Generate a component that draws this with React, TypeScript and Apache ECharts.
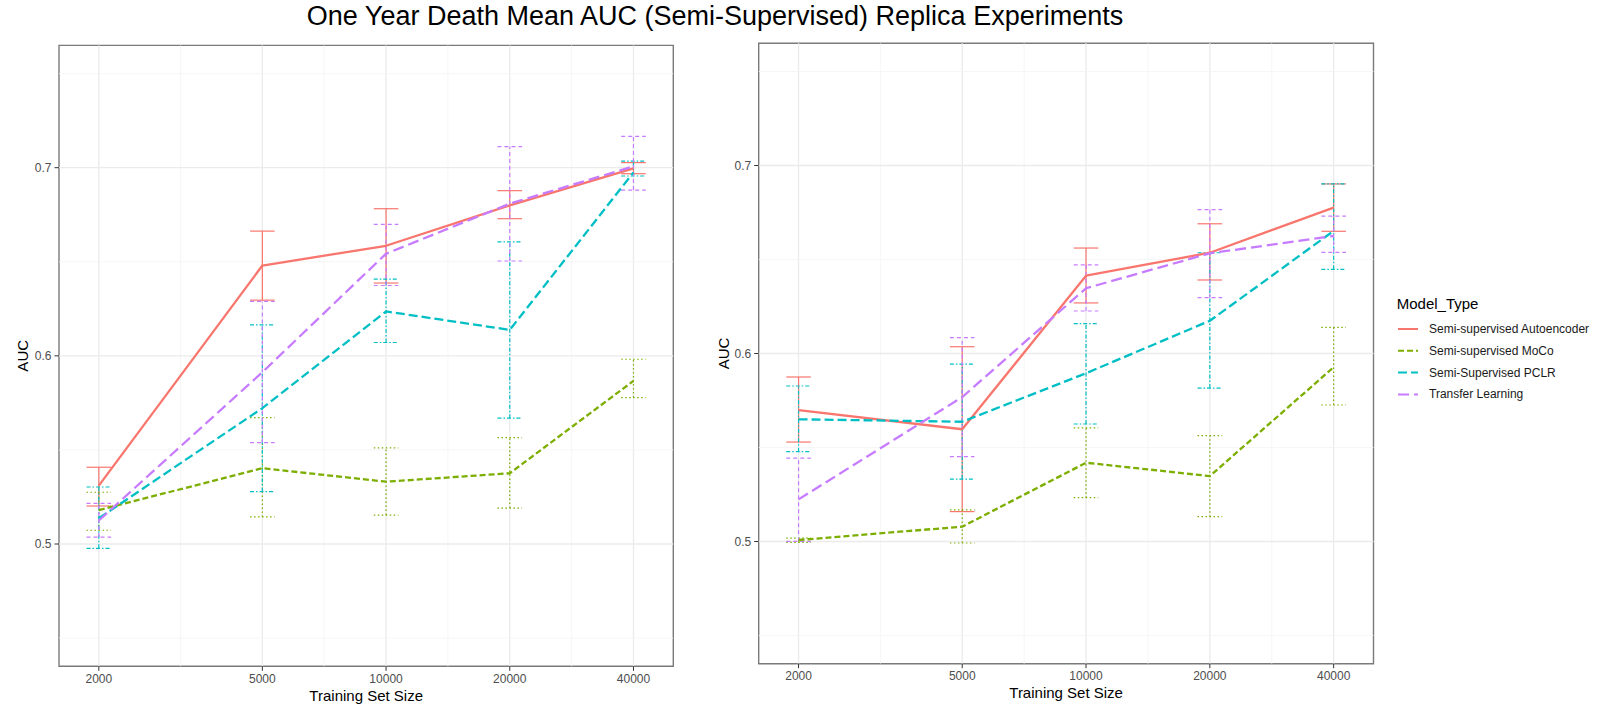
import React, { useEffect, useRef } from "react";
import * as echarts from "echarts";

// ---------- data ----------
const trainingSizes = [2000, 5000, 10000, 20000, 40000];
const yMajorTicks = [0.5, 0.6, 0.7];
const yMinorTicks = [0.45, 0.55, 0.65, 0.75];
const modelNames = [
  "Semi-supervised Autoencoder",
  "Semi-supervised MoCo",
  "Semi-Supervised PCLR",
  "Transfer Learning",
];

// Left panel
const leftAutoencoderMean = [0.531, 0.648, 0.6585, 0.68, 0.6996];
const leftAutoencoderLow = [0.5202, 0.6296, 0.6387, 0.6729, 0.6968];
const leftAutoencoderHigh = [0.5408, 0.6663, 0.6782, 0.6878, 0.7027];
const leftMocoMean = [0.518, 0.5403, 0.5331, 0.5376, 0.5867];
const leftMocoLow = [0.5073, 0.5144, 0.5154, 0.5191, 0.5778];
const leftMocoHigh = [0.5275, 0.5672, 0.5511, 0.5565, 0.5982];
const leftPclrMean = [0.5137, 0.5722, 0.6236, 0.6138, 0.6975];
const leftPclrLow = [0.4977, 0.5278, 0.6071, 0.5669, 0.6956];
const leftPclrHigh = [0.5303, 0.6165, 0.6408, 0.6606, 0.7035];
const leftTransferMean = [0.5125, 0.5913, 0.6543, 0.6809, 0.7007];
const leftTransferLow = [0.5037, 0.5539, 0.6374, 0.6504, 0.6881];
const leftTransferHigh = [0.5216, 0.6289, 0.6699, 0.7112, 0.7166];

// Right panel
const rightAutoencoderMean = [0.5699, 0.5597, 0.6414, 0.6536, 0.6776];
const rightAutoencoderLow = [0.5529, 0.5159, 0.6269, 0.6391, 0.665];
const rightAutoencoderHigh = [0.5875, 0.6036, 0.6561, 0.669, 0.6902];
const rightMocoMean = [0.5008, 0.5079, 0.5419, 0.5348, 0.5927];
const rightMocoLow = [0.4995, 0.4992, 0.5233, 0.5132, 0.5726];
const rightMocoHigh = [0.5018, 0.5168, 0.5604, 0.5563, 0.6139];
const rightPclrMean = [0.565, 0.5637, 0.5895, 0.6174, 0.6652];
const rightPclrLow = [0.5478, 0.5332, 0.5625, 0.5816, 0.6448];
const rightPclrHigh = [0.5827, 0.5944, 0.6159, 0.6536, 0.6902];
const rightTransferMean = [0.5224, 0.5768, 0.6347, 0.6533, 0.6625];
const rightTransferLow = [0.5001, 0.5451, 0.6226, 0.6297, 0.6538];
const rightTransferHigh = [0.5443, 0.6084, 0.6471, 0.6765, 0.6731];

// ---------- styling ----------
const FONT = '"Liberation Sans", Arial, sans-serif';
const COLORS = ["#F8766D", "#7CAE00", "#00BFC4", "#C77CFF"];
const LINE_DASH: any[] = ["solid", [6, 3], [9, 4], [11, 5]];
const ERR_DASH: any[] = [null, [1.5, 2.5], [4, 2, 1.5, 2], [4, 3]];
const X_MIN = 1600;
const X_MAX = 50000;
const Y_MIN = 0.435;
const Y_MAX = 0.765;

const minorGridSizes = trainingSizes
  .slice(1)
  .map((s, i) => Math.sqrt(s * trainingSizes[i]));

const panels = [
  {
    grid: { left: 59, top: 45.4, width: 614.3, height: 620.9 },
    means: [leftAutoencoderMean, leftMocoMean, leftPclrMean, leftTransferMean],
    lows: [leftAutoencoderLow, leftMocoLow, leftPclrLow, leftTransferLow],
    highs: [leftAutoencoderHigh, leftMocoHigh, leftPclrHigh, leftTransferHigh],
  },
  {
    grid: { left: 758.7, top: 43.3, width: 614.8, height: 620.4 },
    means: [rightAutoencoderMean, rightMocoMean, rightPclrMean, rightTransferMean],
    lows: [rightAutoencoderLow, rightMocoLow, rightPclrLow, rightTransferLow],
    highs: [rightAutoencoderHigh, rightMocoHigh, rightPclrHigh, rightTransferHigh],
  },
];

function tickText(x: number, y: number, text: string, align: string) {
  return {
    type: "text",
    x,
    y,
    silent: true,
    style: {
      text,
      fill: "#4d4d4d",
      font: `12px ${FONT}`,
      align,
      verticalAlign: "middle",
      textAlign: align,
      textVerticalAlign: "middle",
    },
  };
}

function buildPanelSeries(p: number) {
  const panel = panels[p];
  const out: any[] = [];
  const xGridValues = [...trainingSizes, ...minorGridSizes];
  const yGridValues = [...yMajorTicks, ...yMinorTicks];

  out.push({
    type: "custom",
    name: "xgrid" + p,
    xAxisIndex: p,
    yAxisIndex: p,
    silent: true,
    z: 1,
    clip: false,
    data: xGridValues.map((v) => [v, Y_MIN]),
    encode: { x: 0, y: 1 },
    renderItem: (params: any, api: any) => {
      const v = api.value(0);
      const major = params.dataIndex < trainingSizes.length;
      const top = api.coord([v, Y_MAX]);
      const bot = api.coord([v, Y_MIN]);
      const children: any[] = [
        {
          type: "line",
          shape: { x1: top[0], y1: top[1], x2: bot[0], y2: bot[1] },
          style: { stroke: major ? "#ebebeb" : "#f4f4f4", lineWidth: major ? 1.3 : 0.8 },
        },
      ];
      if (major) {
        children.push({
          type: "line",
          shape: { x1: bot[0], y1: bot[1], x2: bot[0], y2: bot[1] + 4.5 },
          style: { stroke: "#333333", lineWidth: 1 },
        });
        children.push(tickText(bot[0], bot[1] + 12.3, String(trainingSizes[params.dataIndex]), "center"));
      }
      return { type: "group", children };
    },
  });

  out.push({
    type: "custom",
    name: "ygrid" + p,
    xAxisIndex: p,
    yAxisIndex: p,
    silent: true,
    z: 1,
    clip: false,
    data: yGridValues.map((v) => [X_MIN, v]),
    encode: { x: 0, y: 1 },
    renderItem: (params: any, api: any) => {
      const v = api.value(1);
      const major = params.dataIndex < yMajorTicks.length;
      const l = api.coord([X_MIN, v]);
      const r = api.coord([X_MAX, v]);
      const children: any[] = [
        {
          type: "line",
          shape: { x1: l[0], y1: l[1], x2: r[0], y2: r[1] },
          style: { stroke: major ? "#ebebeb" : "#f4f4f4", lineWidth: major ? 1.3 : 0.8 },
        },
      ];
      if (major) {
        children.push({
          type: "line",
          shape: { x1: l[0] - 4.5, y1: l[1], x2: l[0], y2: l[1] },
          style: { stroke: "#333333", lineWidth: 1 },
        });
        children.push(tickText(l[0] - 7.5, l[1], String(yMajorTicks[params.dataIndex]), "right"));
      }
      return { type: "group", children };
    },
  });

  modelNames.forEach((name, m) => {
    const color = COLORS[m];
    const dash = ERR_DASH[m];
    out.push({
      type: "custom",
      name: "err-" + p + "-" + m,
      xAxisIndex: p,
      yAxisIndex: p,
      silent: true,
      z: 2,
      data: trainingSizes.map((s, i) => [s, panel.lows[m][i], panel.highs[m][i]]),
      encode: { x: 0, y: [1, 2] },
      renderItem: (params: any, api: any) => {
        const x = api.value(0);
        const lo = api.coord([x, api.value(1)]);
        const hi = api.coord([x, api.value(2)]);
        const half = 12.3;
        const st: any = { stroke: color, lineWidth: 1.2, fill: null };
        if (dash) st.lineDash = dash;
        return {
          type: "group",
          children: [
            { type: "line", shape: { x1: lo[0], y1: lo[1], x2: hi[0], y2: hi[1] }, style: { ...st } },
            { type: "line", shape: { x1: lo[0] - half, y1: lo[1], x2: lo[0] + half, y2: lo[1] }, style: { ...st } },
            { type: "line", shape: { x1: hi[0] - half, y1: hi[1], x2: hi[0] + half, y2: hi[1] }, style: { ...st } },
          ],
        };
      },
    });
  });

  modelNames.forEach((name, m) => {
    out.push({
      type: "line",
      name,
      xAxisIndex: p,
      yAxisIndex: p,
      z: 3,
      symbol: "none",
      showSymbol: false,
      color: COLORS[m],
      lineStyle: { color: COLORS[m], width: 2.3, type: LINE_DASH[m], cap: "butt" },
      itemStyle: { color: COLORS[m] },
      data: trainingSizes.map((s, i) => [s, panel.means[m][i]]),
    });
  });
  return out;
}

function buildOption() {
  const grids = panels.map((pn) => ({
    ...pn.grid,
    show: true,
    borderColor: "#7a7a7a",
    borderWidth: 1.4,
    backgroundColor: "#ffffff",
    containLabel: false,
  }));
  const xAxes = panels.map((_, p) => ({
    type: "log",
    logBase: 10,
    gridIndex: p,
    min: X_MIN,
    max: X_MAX,
    axisLine: { show: false },
    axisTick: { show: false },
    axisLabel: { show: false },
    splitLine: { show: false },
    minorSplitLine: { show: false },
  }));
  const yAxes = panels.map((_, p) => ({
    type: "value",
    gridIndex: p,
    min: Y_MIN,
    max: Y_MAX,
    axisLine: { show: false },
    axisTick: { show: false },
    axisLabel: { show: false },
    splitLine: { show: false },
  }));
  const series = [...buildPanelSeries(0), ...buildPanelSeries(1)];

  const axisTitle = (x: number, y: number, text: string, rotation = 0) => ({
    type: "text",
    x,
    y,
    rotation,
    silent: true,
    style: {
      text,
      fill: "#000000",
      font: `15px ${FONT}`,
      align: "center",
      verticalAlign: "middle",
      textAlign: "center",
      textVerticalAlign: "middle",
    },
  });

  return {
    animation: false,
    backgroundColor: "#ffffff",
    textStyle: { fontFamily: FONT },
    grid: grids,
    xAxis: xAxes,
    yAxis: yAxes,
    legend: {
      data: modelNames,
      orient: "vertical",
      left: 1392,
      top: 318,
      itemWidth: 20,
      itemHeight: 14,
      itemGap: 9.8,
      selectedMode: false,
      itemStyle: { opacity: 0, borderWidth: 0 },
      textStyle: { fontSize: 12, fontFamily: FONT, color: "#1a1a1a", padding: [0, 0, 0, 6] },
    },
    graphic: [
      {
        type: "text",
        x: 715,
        y: 15.5,
        silent: true,
        style: {
          text: "One Year Death Mean AUC (Semi-Supervised) Replica Experiments",
          fill: "#000000",
          font: `27px ${FONT}`,
          align: "center",
          verticalAlign: "middle",
          textAlign: "center",
          textVerticalAlign: "middle",
        },
      },
      axisTitle(366.2, 695, "Training Set Size"),
      axisTitle(1066.1, 692.3, "Training Set Size"),
      axisTitle(22.7, 355.8, "AUC", Math.PI / 2),
      axisTitle(723.3, 353.5, "AUC", Math.PI / 2),
      {
        type: "text",
        x: 1396.7,
        y: 303.3,
        silent: true,
        style: {
          text: "Model_Type",
          fill: "#000000",
          font: `15px ${FONT}`,
          align: "left",
          verticalAlign: "middle",
          textAlign: "left",
          textVerticalAlign: "middle",
        },
      },
    ],
    series,
  };
}

export default function App() {
  const ref = useRef<HTMLDivElement>(null);
  useEffect(() => {
    document.body.style.margin = "0";
    if (!ref.current) return;
    const chart = echarts.init(ref.current, undefined, { renderer: "svg" });
    chart.setOption(buildOption() as any);
    return () => {
      chart.dispose();
    };
  }, []);
  return <div ref={ref} style={{ width: 1606, height: 718, background: "#fff" }} />;
}
